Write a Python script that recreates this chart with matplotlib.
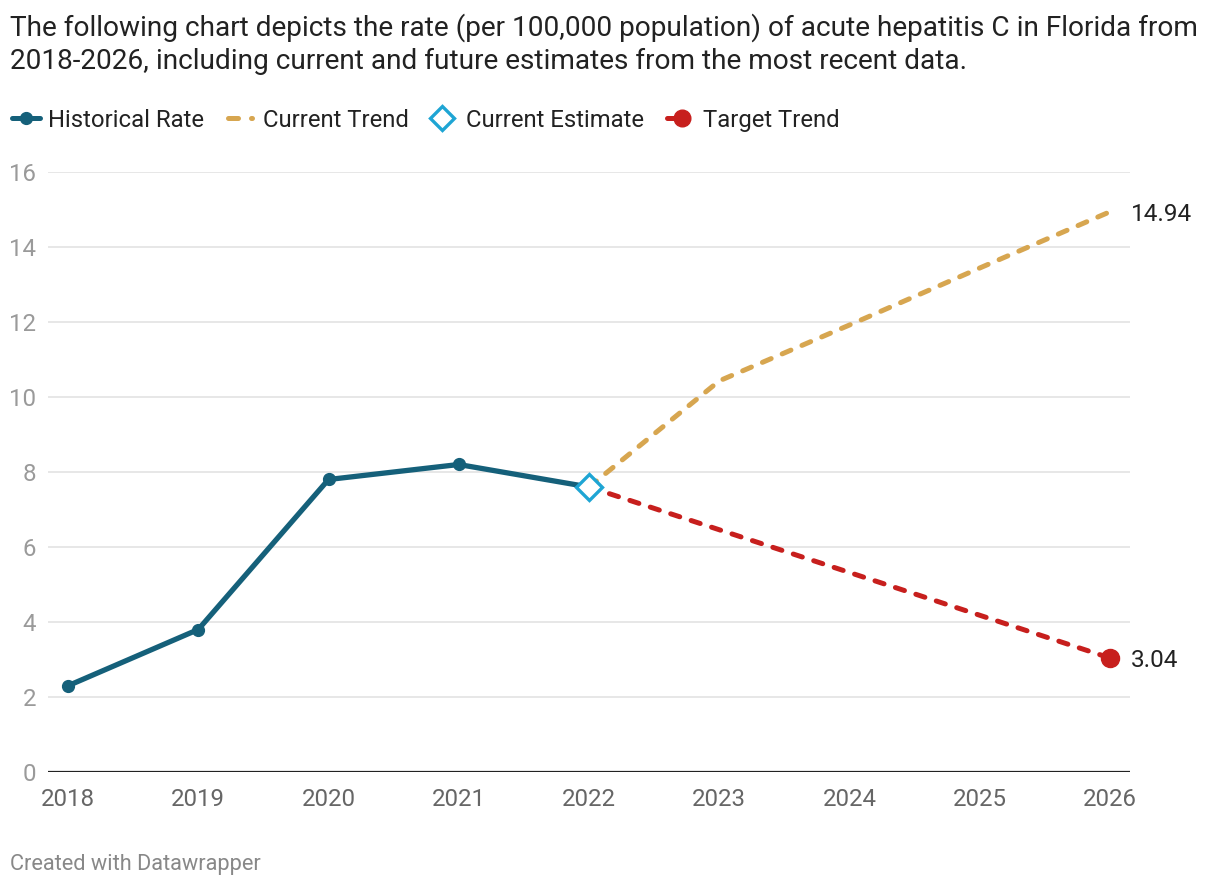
import matplotlib
matplotlib.use("Agg")
import matplotlib.pyplot as plt
from matplotlib.lines import Line2D

plt.rcParams['font.family'] = ['Roboto', 'DejaVu Sans']

years_hist = [2018, 2019, 2020, 2021, 2022]
rate_hist = [2.3, 3.8, 7.8, 8.2, 7.6]
years_proj = [2022, 2023, 2024, 2025, 2026]
current_trend = [7.6, 10.43, 11.92, 13.44, 14.94]
target_trend = [7.6, 6.46, 5.32, 4.18, 3.04]
estimate_year = [2022]
estimate_val = [7.6]
x_ticks = [2018, 2019, 2020, 2021, 2022, 2023, 2024, 2025, 2026]
y_ticks = [0, 2, 4, 6, 8, 10, 12, 14, 16]

C_HIST = '#15607a'
C_CUR = '#d7a650'
C_EST = '#1ea5d4'
C_TGT = '#c71f1d'

W, H = 1220, 888
fig = plt.figure(figsize=(W / 100, H / 100), dpi=100)
ax = fig.add_axes([48 / W, 1 - 772 / H, (1130 - 48) / W, (772 - 172) / H])

ax.set_xlim(2018 - 20 / 130.25, 2026 + 20 / 130.25)
ax.set_ylim(0, 16)

for y in y_ticks[1:]:
    ax.axhline(y, color='#e3e3e3', lw=1.2, zorder=0)
ax.axhline(0, color='#222222', lw=1.6, zorder=1)

ax.plot(years_proj, current_trend, color=C_CUR, lw=3.6, dashes=(1.9, 2.4),
        dash_capstyle='round', zorder=2)
ax.plot(years_proj, target_trend, color=C_TGT, lw=3.6, dashes=(1.9, 2.4),
        dash_capstyle='round', zorder=2)
ax.plot(years_proj[-1:], target_trend[-1:], 'o', color=C_TGT, ms=13, zorder=4)
ax.plot(years_hist, rate_hist, color=C_HIST, lw=3.8, marker='o', ms=8.5,
        solid_capstyle='round', zorder=3)
ax.plot(estimate_year, estimate_val, 'D', mfc='white', mec=C_EST, mew=2.4,
        ms=13, zorder=5)

ax.text(2026 + 21 / 130.25, current_trend[-1], f"{current_trend[-1]:.2f}",
        fontsize=17.5, color='#222222', va='center_baseline', ha='left')
ax.text(2026 + 21 / 130.25, target_trend[-1], f"{target_trend[-1]:.2f}",
        fontsize=17.5, color='#222222', va='center_baseline', ha='left')

for s in ax.spines.values():
    s.set_visible(False)
ax.set_xticks(x_ticks)
ax.set_xticklabels([str(x) for x in x_ticks])
ax.set_yticks(y_ticks)
ax.set_yticklabels([str(y) for y in y_ticks])
ax.tick_params(axis='x', length=0, pad=11.5, labelsize=17.3, labelcolor='#666666')
ax.tick_params(axis='y', length=0, pad=8.5, labelsize=17.3, labelcolor='#9a9a9a')

fig.text(10 / W, 1 - 28 / H, "The following chart depicts the rate (per 100,000 population) of acute hepatitis C in Florida from",
         fontsize=20.2, color='#222222', va='center', ha='left')
fig.text(10 / W, 1 - 61 / H, "2018-2026, including current and future estimates from the most recent data.",
         fontsize=20.2, color='#222222', va='center', ha='left')

ly = 1 - 118 / H
def fx(px):
    return px / W
fig.add_artist(Line2D([fx(12), fx(40)], [ly, ly], color=C_HIST, lw=3.6,
                      solid_capstyle='round', transform=fig.transFigure))
fig.add_artist(Line2D([fx(26)], [ly], color=C_HIST, marker='o', ms=8.5,
                      transform=fig.transFigure))
fig.text(fx(48), ly, "Historical Rate", fontsize=17.2, color='#222222', va='center_baseline', ha='left')

fig.add_artist(Line2D([fx(228), fx(238)], [ly, ly], color=C_CUR, lw=3.6,
                      solid_capstyle='round', transform=fig.transFigure))
fig.add_artist(Line2D([fx(251), fx(252)], [ly, ly], color=C_CUR, lw=3.6,
                      solid_capstyle='round', transform=fig.transFigure))
fig.text(fx(263), ly, "Current Trend", fontsize=17.2, color='#222222', va='center_baseline', ha='left')

fig.add_artist(Line2D([fx(442)], [ly], marker='D', mfc='white', mec=C_EST,
                      mew=2.4, ms=12, transform=fig.transFigure))
fig.text(fx(466), ly, "Current Estimate", fontsize=17.2, color='#222222', va='center_baseline', ha='left')

fig.add_artist(Line2D([fx(667), fx(682)], [ly, ly], color=C_TGT, lw=3.6,
                      solid_capstyle='round', transform=fig.transFigure))
fig.add_artist(Line2D([fx(682)], [ly], color=C_TGT, marker='o', ms=12,
                      transform=fig.transFigure))
fig.text(fx(703), ly, "Target Trend", fontsize=17.2, color='#222222', va='center_baseline', ha='left')

fig.text(10 / W, 1 - 864 / H, "Created with Datawrapper", fontsize=15.7,
         color='#888888', va='center', ha='left')

fig.savefig("out.png", dpi=100)
